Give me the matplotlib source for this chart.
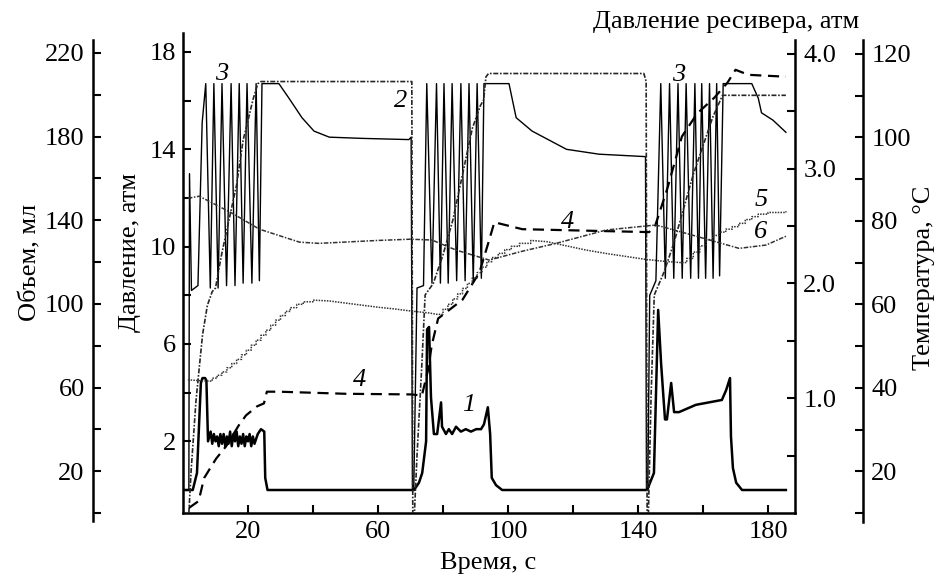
import matplotlib.pyplot as plt

# curve 1 - pressure, atm (left axis)
t1 = [0.5, 3.0, 4.3, 5.5, 6.0, 6.8, 7.2, 7.7, 8.5, 9.0, 9.5, 10.0, 10.5, 11.0, 11.5, 12.0,
      12.5, 13.0, 13.5, 14.0, 14.5, 15.0, 15.5, 16.0, 16.5, 17.0, 17.5, 18.0, 18.5, 19.0,
      19.5, 20.0, 20.5, 21.0, 21.5, 22.0, 23.0, 24.0, 25.0, 25.3, 26.0,
      71.1, 72.6, 73.6, 74.8, 75.1, 75.7, 76.3, 77.2, 78.2, 79.4, 79.7, 80.9, 81.8, 82.8,
      84.0, 85.5, 87.0, 88.6, 90.2, 91.7, 92.6, 93.8, 94.5, 95.0, 96.3, 98.2,
      142.8, 144.0, 144.9, 146.2, 147.1, 148.3, 148.9, 150.2, 151.1, 152.6, 157.8, 165.8,
      167.1, 168.3, 168.6, 169.2, 170.2, 172.0, 185.5]
p1 = [0.0, 0.0, 0.7, 4.4, 4.6, 4.6, 4.5, 2.0, 2.4, 1.9, 2.3, 2.0, 2.2, 1.8, 2.3, 1.9,
      2.3, 1.8, 2.2, 1.9, 2.4, 1.8, 2.3, 2.0, 2.4, 1.8, 2.2, 1.9, 2.3, 1.8,
      2.2, 2.0, 2.3, 1.8, 2.2, 1.9, 2.3, 2.5, 2.4, 0.5, 0.0,
      0.0, 0.3, 0.7, 2.0, 6.6, 6.7, 3.8, 2.3, 2.3, 3.6, 2.6, 2.3, 2.5, 2.3,
      2.6, 2.4, 2.5, 2.4, 2.5, 2.5, 2.7, 3.4, 2.3, 0.5, 0.2, 0.0,
      0.0, 0.4, 0.7, 7.4, 5.2, 2.9, 2.9, 4.4, 3.2, 3.2, 3.5, 3.7,
      4.1, 4.6, 2.2, 0.9, 0.3, 0.0, 0.0]

# curve 2 - receiver pressure, atm (right axis)
t2 = [1.8, 2.5, 4.0, 6.0, 7.5, 9.0, 10.0, 11.0, 12.0, 14.5, 16.5, 18.5, 20.0, 21.5, 23.0,
      24.0, 70.4, 70.7, 71.2, 72.0, 73.5, 74.5, 77.0, 80.0, 83.0, 86.0, 89.0, 91.5, 92.5,
      93.2, 94.0, 141.8, 142.5, 142.8, 143.2, 144.0, 145.0, 148.0, 151.0, 154.0, 157.0,
      160.0, 163.0, 166.0, 185.5]
r2 = [0.0, 0.37, 0.98, 1.55, 1.81, 1.93, 1.96, 2.12, 2.27, 2.6, 2.86, 3.25, 3.42, 3.6, 3.74,
      3.76, 3.76, 0.0, 0.0, 0.5, 1.3, 1.9, 2.0, 2.25, 2.55, 2.95, 3.35, 3.55, 3.6,
      3.8, 3.83, 3.83, 3.76, 0.0, 0.0, 1.0, 1.9, 2.1, 2.35, 2.65, 2.95,
      3.2, 3.45, 3.64, 3.64]

# curve 3 - pressure, atm (left axis)
t3 = [1.8, 2.0, 2.6, 4.6, 5.9, 7.0, 8.4, 9.5, 10.8, 12.0, 13.4, 14.8, 16.0, 17.3, 18.5,
      19.7, 21.2, 22.5, 23.5, 24.3, 29.5, 32.6, 36.6, 40.3, 45.0, 55.0, 69.5, 70.2, 70.6,
      71.0, 72.0, 74.0, 75.0, 76.6, 78.0, 79.2, 80.3, 81.6, 82.8, 84.2, 85.5, 86.8, 88.0,
      89.3, 90.5, 91.8, 92.6, 100.3, 102.5, 107.4, 118.0, 128.0, 142.3, 142.6,
      143.0, 143.6, 145.5, 147.0, 148.4, 149.7, 151.0, 152.3, 153.6, 154.8, 156.2, 157.5,
      158.6, 159.6, 160.8, 162.0, 163.1, 164.2, 165.1, 166.2, 175.0, 177.0, 178.0, 181.5, 185.5]
p3 = [0.0, 13.0, 8.2, 8.4, 15.1, 16.7, 8.3, 16.7, 8.3, 16.7, 8.4, 16.7, 8.4, 16.7, 8.5,
      16.7, 8.5, 16.7, 8.6, 16.7, 16.7, 16.1, 15.3, 14.75, 14.5, 14.45, 14.4, 14.5, 0.0,
      0.0, 8.3, 8.4, 16.7, 8.5, 16.7, 8.5, 16.7, 8.5, 16.7, 8.6, 16.7, 8.6, 16.7,
      8.6, 16.7, 8.7, 16.7, 16.7, 15.3, 14.75, 14.0, 13.8, 13.7, 0.0,
      0.0, 8.0, 8.6, 16.7, 8.7, 16.7, 8.7, 16.7, 8.7, 16.7, 8.7, 16.7,
      8.7, 16.7, 8.7, 16.7, 8.7, 16.7, 8.8, 16.7, 16.7, 16.1, 15.5, 15.2, 14.7]

# curve 4 - volume, ml
t4 = [1.8, 4.8, 6.5, 8.0, 10.2, 13.3, 17.2, 19.4, 22.8, 24.9, 25.8, 29.5, 50.0, 70.0, 73.5,
      75.5, 76.5, 78.5, 86.0, 91.2, 94.3, 95.8, 104.4, 143.4, 145.2, 149.0, 153.5, 158.2,
      163.5, 167.5, 170.0, 174.0, 185.5]
v4 = [2.4, 5.7, 16.7, 20.5, 26.0, 32.0, 42.0, 46.7, 51.0, 52.4, 58.0, 58.0, 57.0, 56.7, 56.2,
      69.0, 80.0, 93.0, 102.0, 115.0, 131.0, 139.0, 135.7, 134.3, 137.0, 155.0, 180.0, 191.0,
      198.6, 205.7, 211.9, 209.5, 208.6]

# curve 5 - temperature, C (rises in steps)
t5 = [1.5, 7.0, 9.0, 10.5, 12.0, 13.5, 15.0, 16.5, 18.0, 19.5, 21.0, 22.5, 24.0, 25.5, 27.0,
      28.5, 30.0, 31.5, 33.0, 35.0, 37.0, 40.0, 45.0, 50.0, 55.0, 60.0, 65.0, 70.0, 76.0,
      78.0, 80.0, 81.5, 83.0, 84.5, 86.0, 87.5, 89.0, 90.5, 92.0, 93.5, 95.0, 97.0, 99.0,
      101.0, 103.5, 107.0, 112.0, 118.0, 124.0, 130.0, 136.0, 142.0, 148.0, 153.0, 155.0,
      157.0, 159.0, 161.0, 163.0, 165.0, 167.0, 169.0, 171.0, 173.0, 175.0, 177.0, 180.0, 185.5]
T5 = [41.9, 41.6, 42.3, 43.0, 43.8, 44.8, 45.8, 46.8, 47.9, 49.0, 50.2, 51.4, 52.6, 53.8, 55.0,
      56.2, 57.3, 58.3, 59.2, 60.0, 60.6, 61.0, 60.8, 60.3, 59.8, 59.3, 58.9, 58.4, 57.9,
      57.6, 58.8, 60.0, 61.3, 62.5, 63.8, 65.0, 66.3, 67.6, 68.9, 70.2, 71.2, 72.2, 73.1,
      73.9, 74.6, 75.3, 75.0, 74.0, 73.0, 72.2, 71.5, 70.8, 70.3, 70.0, 71.0,
      72.5, 74.0, 75.5, 76.5, 77.3, 78.0, 78.6, 79.4, 80.3, 81.0, 81.6, 82.0, 82.3]

# curve 6 - temperature, C
t6 = [1.5, 5.0, 15.2, 23.5, 35.8, 41.8, 60.0, 70.0, 76.6, 84.0, 94.2, 104.3, 114.8, 130.2,
      145.5, 154.8, 171.1, 179.4, 185.5]
T6 = [85.4, 85.9, 81.8, 78.0, 74.9, 74.6, 75.3, 75.6, 75.4, 73.0, 70.6, 72.7, 74.6, 77.8,
      79.0, 77.0, 73.4, 74.2, 76.3]

curve_labels = ['1', '2', '3', '3', '4', '4', '5', '6']
label_t = [88.0, 67.1, 12.0, 152.6, 54.2, 118.2, 177.8, 177.8]
label_p = [3.5, 16.0, 17.1, 17.05, 4.5, 11.0, 11.9, 10.6]

plt.rcParams['font.family'] = ['Liberation Serif', 'DejaVu Serif']
FS = 19

fig = plt.figure(figsize=(9.44, 5.78), dpi=100)
ax = fig.add_axes([183 / 944, 65 / 578, 612 / 944, 480 / 578])
ax_r = ax.twinx()
ax_v = ax.twinx()
ax_t = ax.twinx()

ax.set_xlim(0, 188.3)
ax.set_ylim(-0.945, 18.78)
ax_r.set_ylim(0, 4.183)
ax_v.set_ylim(0.95, 229.5)
ax_t.set_ylim(10.24, 125.0)

# curve 5 is drawn as a staircase only where it rises
x5, y5 = [t5[0]], [T5[0]]
for i in range(1, len(t5)):
    if T5[i] > T5[i - 1]:
        x5.append(t5[i])
        y5.append(T5[i - 1])
    x5.append(t5[i])
    y5.append(T5[i])

ax.plot(t1, p1, color='black', lw=1.8)
ax.plot(t3, p3, color='black', lw=1.0)
ax_r.plot(t2, r2, color='0.15', lw=1.2, ls=(0, (3, 1, 1, 1)))
ax_v.plot(t4, v4, color='black', lw=1.6, ls=(0, (5, 3)))
ax_t.plot(x5, y5, color='0.2', lw=1.1, ls=(0, (1, 0.8)))
ax_t.plot(t6, T6, color='0.2', lw=1.1, ls=(0, (3, 1, 1, 1)))

for s, x, y in zip(curve_labels, label_t, label_p):
    ax.text(x, y, s, fontsize=FS, style='italic', ha='center', va='center')

# spines
for a in (ax, ax_r, ax_v, ax_t):
    for sp in a.spines.values():
        sp.set_visible(False)
        sp.set_linewidth(1.8)
ax.spines['left'].set_visible(True)
ax.spines['bottom'].set_visible(True)
ax_r.spines['right'].set_visible(True)
ax_r.spines['right'].set_bounds(0, 4.12)
ax_v.spines['left'].set_visible(True)
ax_v.spines['left'].set_position(('axes', (93 - 183) / 612))
ax_v.spines['left'].set_bounds(-3.8, 226.2)
ax_v.yaxis.set_ticks_position('left')
ax_v.yaxis.set_label_position('left')
ax_t.spines['right'].set_visible(True)
ax_t.spines['right'].set_position(('axes', (863 - 183) / 612))
ax_t.spines['right'].set_bounds(7.85, 123.35)

# ticks
ax.set_xticks([20, 60, 100, 140, 180])
ax.set_xticks([40, 80, 120, 160], minor=True)
ax.set_yticks([2, 6, 10, 14, 18])
ax.set_yticks([0, 4, 8, 12, 16], minor=True)
ax_r.set_yticks([1.0, 2.0, 3.0, 4.0])
ax_r.set_yticklabels(['1.0', '2.0', '3.0', '4.0'])
ax_r.set_yticks([0.5, 1.5, 2.5, 3.5], minor=True)
ax_v.set_yticks([20, 60, 100, 140, 180, 220])
ax_v.set_yticks([0, 40, 80, 120, 160, 200], minor=True)
ax_t.set_yticks([20, 40, 60, 80, 100, 120])
ax_t.set_yticks([10, 30, 50, 70, 90, 110], minor=True)

for a in (ax, ax_r, ax_v, ax_t):
    a.tick_params(which='both', direction='in', length=5.5, width=1.5,
                  labelsize=FS, pad=6)
ax.tick_params(axis='y', pad=5)

# axis titles
fig.text(30 / 944, 1 - 262 / 578, 'Объем, мл', rotation=90, fontsize=FS,
         ha='center', va='center')
fig.text(130 / 944, 1 - 252 / 578, 'Давление, атм', rotation=90, fontsize=FS,
         ha='center', va='center')
fig.text(924 / 944, 1 - 278 / 578, 'Температура, °C', rotation=90, fontsize=FS,
         ha='center', va='center')
fig.text(488 / 944, 1 - 563 / 578, 'Время, с', fontsize=FS, ha='center', va='center')
fig.text(726 / 944, 1 - 22 / 578, 'Давление ресивера, атм', fontsize=FS,
         ha='center', va='center')

fig.savefig('out.png', dpi=100)
